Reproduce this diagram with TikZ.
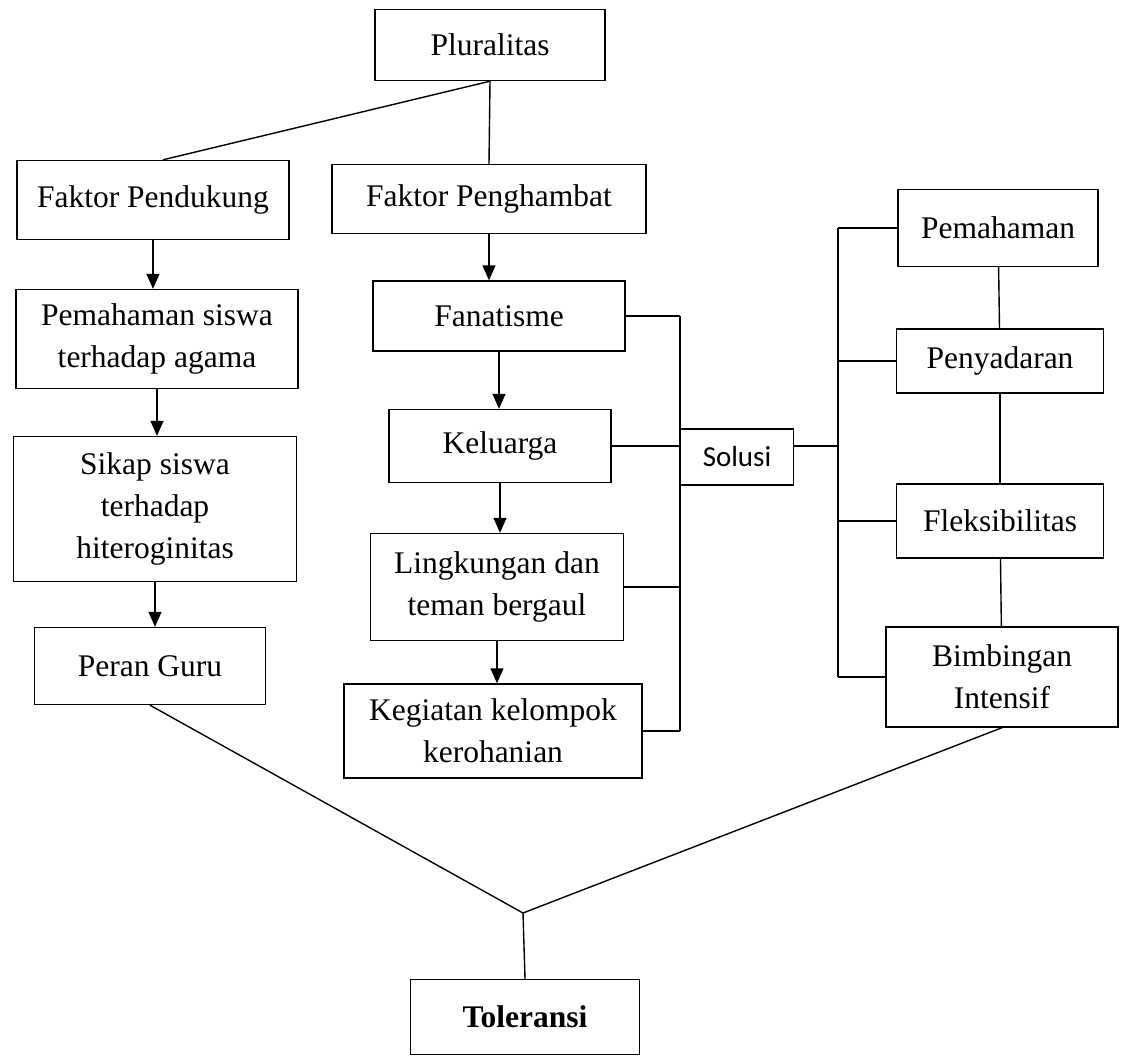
\documentclass[tikz,border=0pt]{standalone}
\usepackage{fontspec}
\setmainfont{Liberation Serif}
\newfontfamily\solusifont{Carlito}
\usetikzlibrary{positioning,arrows.meta}

\begin{document}
\begin{tikzpicture}[x=1pt, y=-1pt, line width=1.4pt,
	box/.style={draw, inner sep=0pt, align=center, font=\fontsize{31.5}{42}\selectfont},
	arr/.style={-{Triangle[length=15pt, width=13pt]}}]
	\useasboundingbox (0,0) rectangle (1121,1057);
	% top
	\node[box, minimum width=230pt, minimum height=71pt] (plur) at (490,45) {Pluralitas};
	\node[box, minimum width=272pt, minimum height=79pt] (pend) at (153,200) {Faktor Pendukung};
	\node[box, minimum width=314pt, minimum height=69pt] (hamb) at (489,199) {Faktor Penghambat};
	% left column
	\node[box, minimum width=282pt, minimum height=99pt] (pemsis) at (157,339) {Pemahaman siswa\\terhadap agama};
	\node[box, minimum width=283pt, minimum height=145pt] (sikap) at (155,509) {Sikap siswa\\terhadap\\hiteroginitas};
	\node[box, minimum width=231pt, minimum height=77pt] (guru) at (150,666) {Peran Guru};
	% middle column
	\node[box, minimum width=252pt, minimum height=70pt] (fana) at (499,316) {Fanatisme};
	\node[box, minimum width=222pt, minimum height=73pt] (kel) at (500,446) {Keluarga};
	\node[box, minimum width=253pt, minimum height=107pt] (ling) at (497,587) {Lingkungan dan\\teman bergaul};
	\node[box, minimum width=298pt, minimum height=94pt] (keg) at (493,731) {Kegiatan kelompok\\kerohanian};
	\node[box, minimum width=113pt, minimum height=56pt, font=\solusifont\fontsize{29}{32}\selectfont] (sol) at (737,457) {Solusi};
	% right column
	\node[box, minimum width=200pt, minimum height=77pt] (pem) at (998,228) {Pemahaman};
	\node[box, minimum width=207pt, minimum height=64pt] (peny) at (1000,361) {Penyadaran};
	\node[box, minimum width=207pt, minimum height=74pt] (flek) at (1000,521) {Fleksibilitas};
	\node[box, minimum width=232pt, minimum height=100pt] (bimb) at (1002,677) {Bimbingan\\Intensif};
	% bottom
	\node[box, minimum width=229pt, minimum height=75pt, font=\fontsize{31.5}{42}\selectfont\bfseries] (tol) at (525,1017) {Toleransi};
	\coordinate (j) at (523,913);

	\draw (plur.south) -- ([xshift=10pt]pend.north);
	\draw (plur.south) -- (hamb.north);
	\draw[arr] (pend.south) -- (pend.south |- pemsis.north);
	\draw[arr] (pemsis.south) -- (pemsis.south |- sikap.north);
	\draw[arr] (sikap.south) -- (sikap.south |- guru.north);
	\draw[arr] (hamb.south) -- (hamb.south |- fana.north);
	\draw[arr] (fana.south) -- (fana.south |- kel.north);
	\draw[arr] (kel.south) -- (kel.south |- ling.north);
	\draw[arr] (ling.south) -- (ling.south |- keg.north);
	% solusi brackets
	\draw (fana.east -| sol.west) -- (keg.east -| sol.west);
	\foreach \n in {fana,kel,ling,keg}
		\draw (\n.east) -- (\n.east -| sol.west);
	\coordinate (rb) at (838,0);
	\draw ([yshift=11pt]sol.east) -- ([yshift=11pt]sol.east -| rb);
	\draw (pem.west -| rb) -- (bimb.west -| rb);
	\foreach \n in {pem,peny,flek,bimb}
		\draw (\n.west) -- (\n.west -| rb);
	\draw (pem) -- (peny);
	\draw (peny) -- (flek);
	\draw (flek) -- (bimb);
	% toleransi
	\draw (guru.south) -- (j) -- (bimb.south);
	\draw (j) -- (tol.north);
\end{tikzpicture}
\end{document}
